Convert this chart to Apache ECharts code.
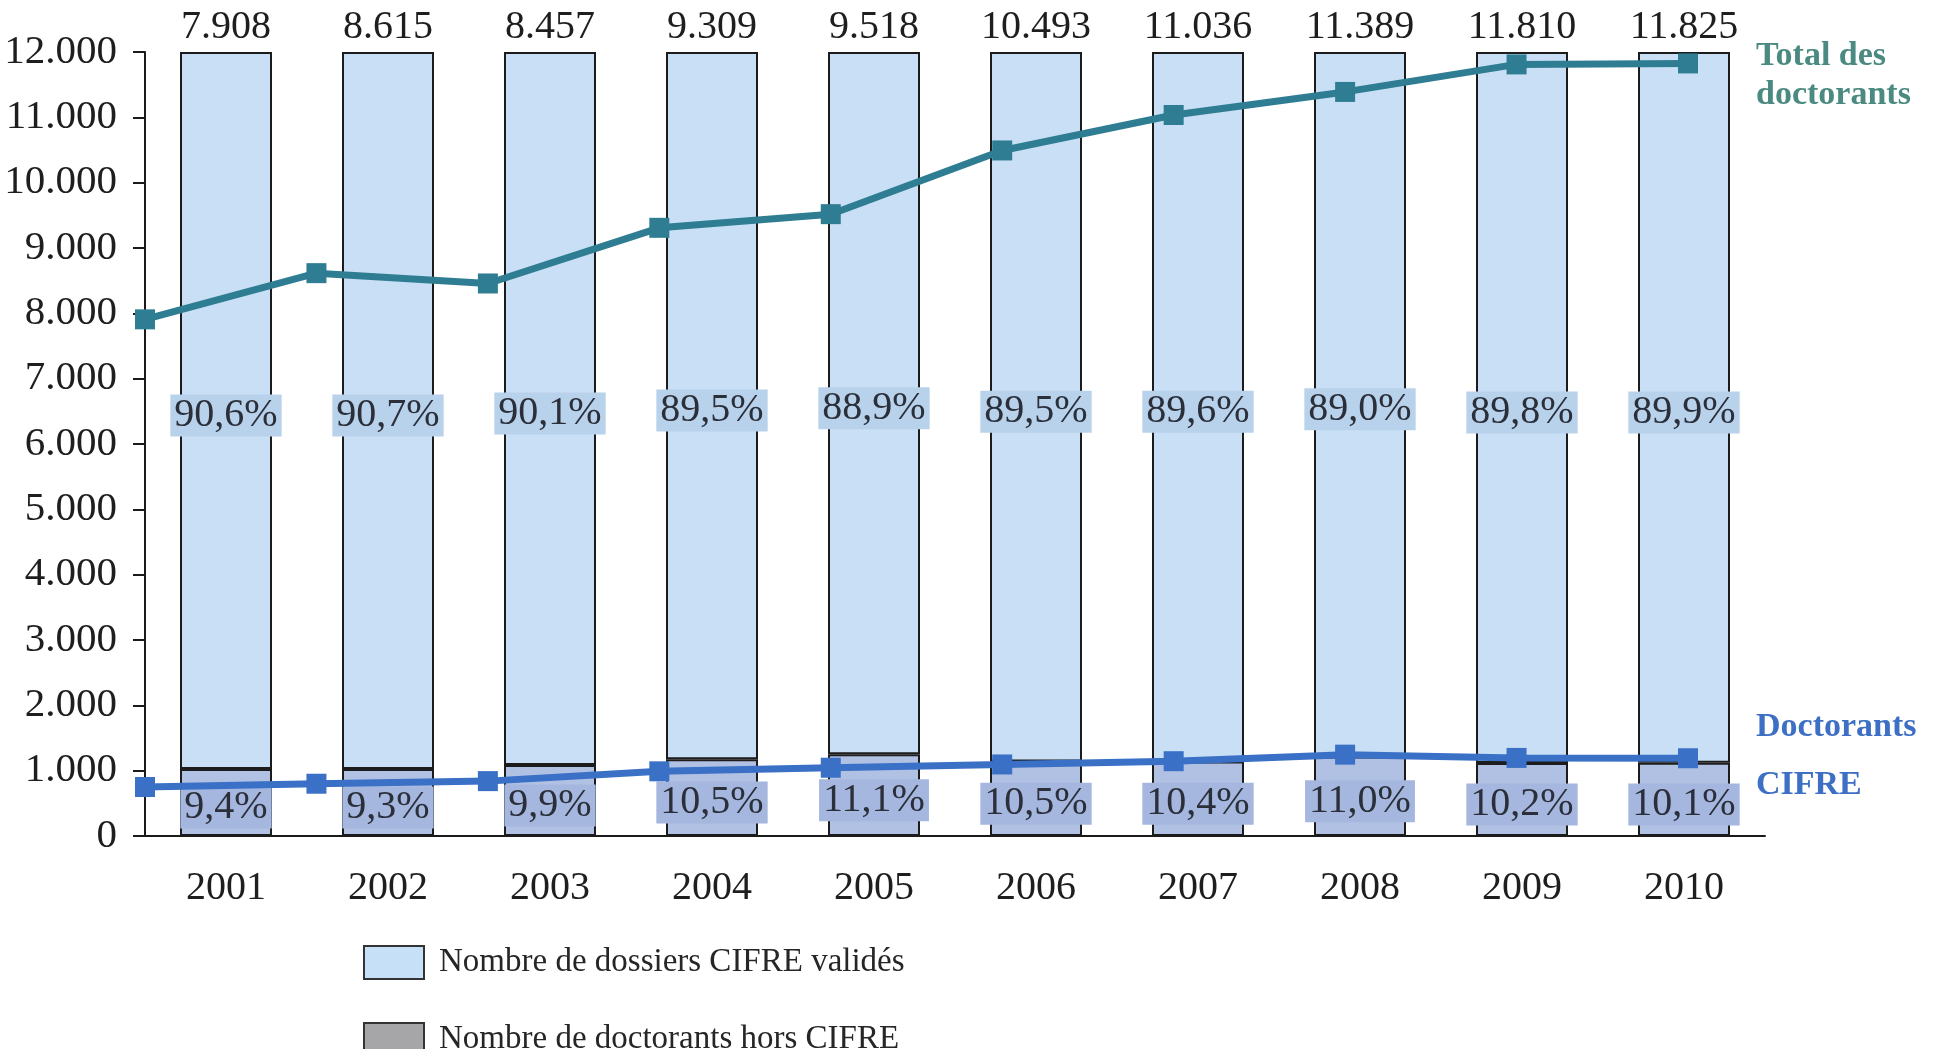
<!DOCTYPE html>
<html>
<head>
<meta charset="utf-8">
<script src="https://cdn.jsdelivr.net/npm/echarts@6/dist/echarts.min.js"></script>
<style>
html,body{margin:0;padding:0;background:#fff;}
#chart{width:1934px;height:1049px;}
</style>
</head>
<body>
<div id="chart"></div>
<script>
const categories = ['2001','2002','2003','2004','2005','2006','2007','2008','2009','2010'];
const totalDoctorants = [7908, 8615, 8457, 9309, 9518, 10493, 11036, 11389, 11810, 11825];
const doctorantsCifre = [750, 800, 840, 990, 1045, 1095, 1145, 1245, 1195, 1190];
const dossiersValides = [10975, 10975, 10915, 10824, 10749, 10859, 10860, 10785, 10884, 10880];
const horsCifre = [1025, 1025, 1085, 1176, 1251, 1141, 1140, 1215, 1116, 1120];
const pctTop = ['90,6%','90,7%','90,1%','89,5%','88,9%','89,5%','89,6%','89,0%','89,8%','89,9%'];
const pctBottom = ['9,4%','9,3%','9,9%','10,5%','11,1%','10,5%','10,4%','11,0%','10,2%','10,1%'];
const topCap = [0,0,0,0,0,0,0,0,0,0];

const FONT = 'Liberation Serif';
const fmt = v => String(v).replace(/\B(?=(\d{3})+(?!\d))/g, '.');

const chart = echarts.init(document.getElementById('chart'), null, {renderer:'canvas'});
const borderCol = '#1c1c1c';
const legendBase = {
  orient: 'vertical', left: 358,
  itemWidth: 60, itemHeight: 33,
  icon: 'rect',
  textStyle: {fontFamily: FONT, fontSize: 33, color: '#262626', padding: [0,0,0,10]}
};

chart.setOption({
  backgroundColor: '#ffffff',
  animation: false,
  grid: [
    {left: 145, right: 169, top: 52, bottom: 213},
    {left: 145, right: 246, top: 52, bottom: 213}
  ],
  legend: [
    Object.assign({}, legendBase, {top: 940, data: [
      {name: 'Nombre de dossiers CIFRE validés', itemStyle: {color: '#c6e0f7', borderColor: '#333', borderWidth: 2}}
    ]}),
    Object.assign({}, legendBase, {top: 1017, data: [
      {name: 'Nombre de doctorants hors CIFRE', itemStyle: {color: '#a6a6a8', borderColor: '#333', borderWidth: 2}}
    ]})
  ],
  xAxis: [
    {
      type: 'category', gridIndex: 0, data: categories, offset: 6,
      axisLine: {show: true, lineStyle: {color: '#1a1a1a', width: 2}},
      axisTick: {show: false},
      axisLabel: {fontFamily: FONT, fontSize: 40, color: '#1e1e1e', margin: 26}
    },
    {
      type: 'category', gridIndex: 1, data: categories, boundaryGap: false, show: false
    }
  ],
  yAxis: [
    {
      type: 'value', gridIndex: 0, min: 0, max: 12000, interval: 1000,
      axisLine: {show: true, lineStyle: {color: '#1a1a1a', width: 2}},
      axisTick: {show: true, length: 12, lineStyle: {color: '#1a1a1a', width: 2}},
      splitLine: {show: false},
      axisLabel: {fontFamily: FONT, fontSize: 41, color: '#1e1e1e', margin: 28, formatter: v => fmt(v)}
    },
    {
      type: 'value', gridIndex: 1, min: 0, max: 12000, show: false, splitLine: {show: false}
    }
  ],
  graphic: [
    {type: 'text', left: 1756, top: 37, style: {text: 'Total des\ndoctorants', font: 'bold 34px "Liberation Serif"', fill: '#4b8a80', lineHeight: 39}},
    {type: 'text', left: 1756, top: 710, style: {text: 'Doctorants', font: 'bold 34px "Liberation Serif"', fill: '#3d6fc4'}},
    {type: 'text', left: 1756, top: 768, style: {text: 'CIFRE', font: 'bold 34px "Liberation Serif"', fill: '#3d6fc4'}}
  ],
  series: [
    {
      name: 'Nombre de doctorants hors CIFRE', type: 'bar', stack: 'b', xAxisIndex: 0, yAxisIndex: 0,
      data: horsCifre, barWidth: 92,
      itemStyle: {color: '#b1c1e3', borderColor: borderCol, borderWidth: 2},
      label: {
        show: true, position: 'inside', offset: [0, 5], fontFamily: FONT, fontSize: 40, color: '#2a2f3a',
        backgroundColor: '#a5b7de', padding: [2, 4, 0, 4],
        formatter: p => pctBottom[p.dataIndex]
      },
      z: 2
    },
    {
      name: 'Nombre de dossiers CIFRE validés', type: 'bar', stack: 'b', xAxisIndex: 0, yAxisIndex: 0,
      data: dossiersValides, barWidth: 92,
      itemStyle: {color: '#c8dff5', borderColor: borderCol, borderWidth: 2},
      label: {
        show: true, position: 'inside', offset: [0, 5], fontFamily: FONT, fontSize: 40, color: '#2a2f3a',
        backgroundColor: '#b9d2ec', padding: [2, 4, 0, 4],
        formatter: p => pctTop[p.dataIndex]
      },
      z: 2
    },
    {
      name: 'totaux', type: 'bar', stack: 'b', xAxisIndex: 0, yAxisIndex: 0,
      data: topCap, barWidth: 92,
      itemStyle: {color: 'rgba(0,0,0,0)', borderWidth: 0},
      label: {
        show: true, position: 'top', distance: 5, fontFamily: FONT, fontSize: 40, color: '#1e1e1e',
        formatter: p => fmt(totalDoctorants[p.dataIndex])
      },
      z: 2
    },
    {
      name: 'Total des doctorants', type: 'line', xAxisIndex: 1, yAxisIndex: 1,
      data: totalDoctorants,
      lineStyle: {color: '#2f7d92', width: 7},
      itemStyle: {color: '#2f7d92'},
      symbol: 'rect', symbolSize: 20,
      z: 5
    },
    {
      name: 'Doctorants CIFRE', type: 'line', xAxisIndex: 1, yAxisIndex: 1,
      data: doctorantsCifre,
      lineStyle: {color: '#3a70c6', width: 7},
      itemStyle: {color: '#3a70c6'},
      symbol: 'rect', symbolSize: 20,
      z: 5
    }
  ]
});
</script>
</body>
</html>
